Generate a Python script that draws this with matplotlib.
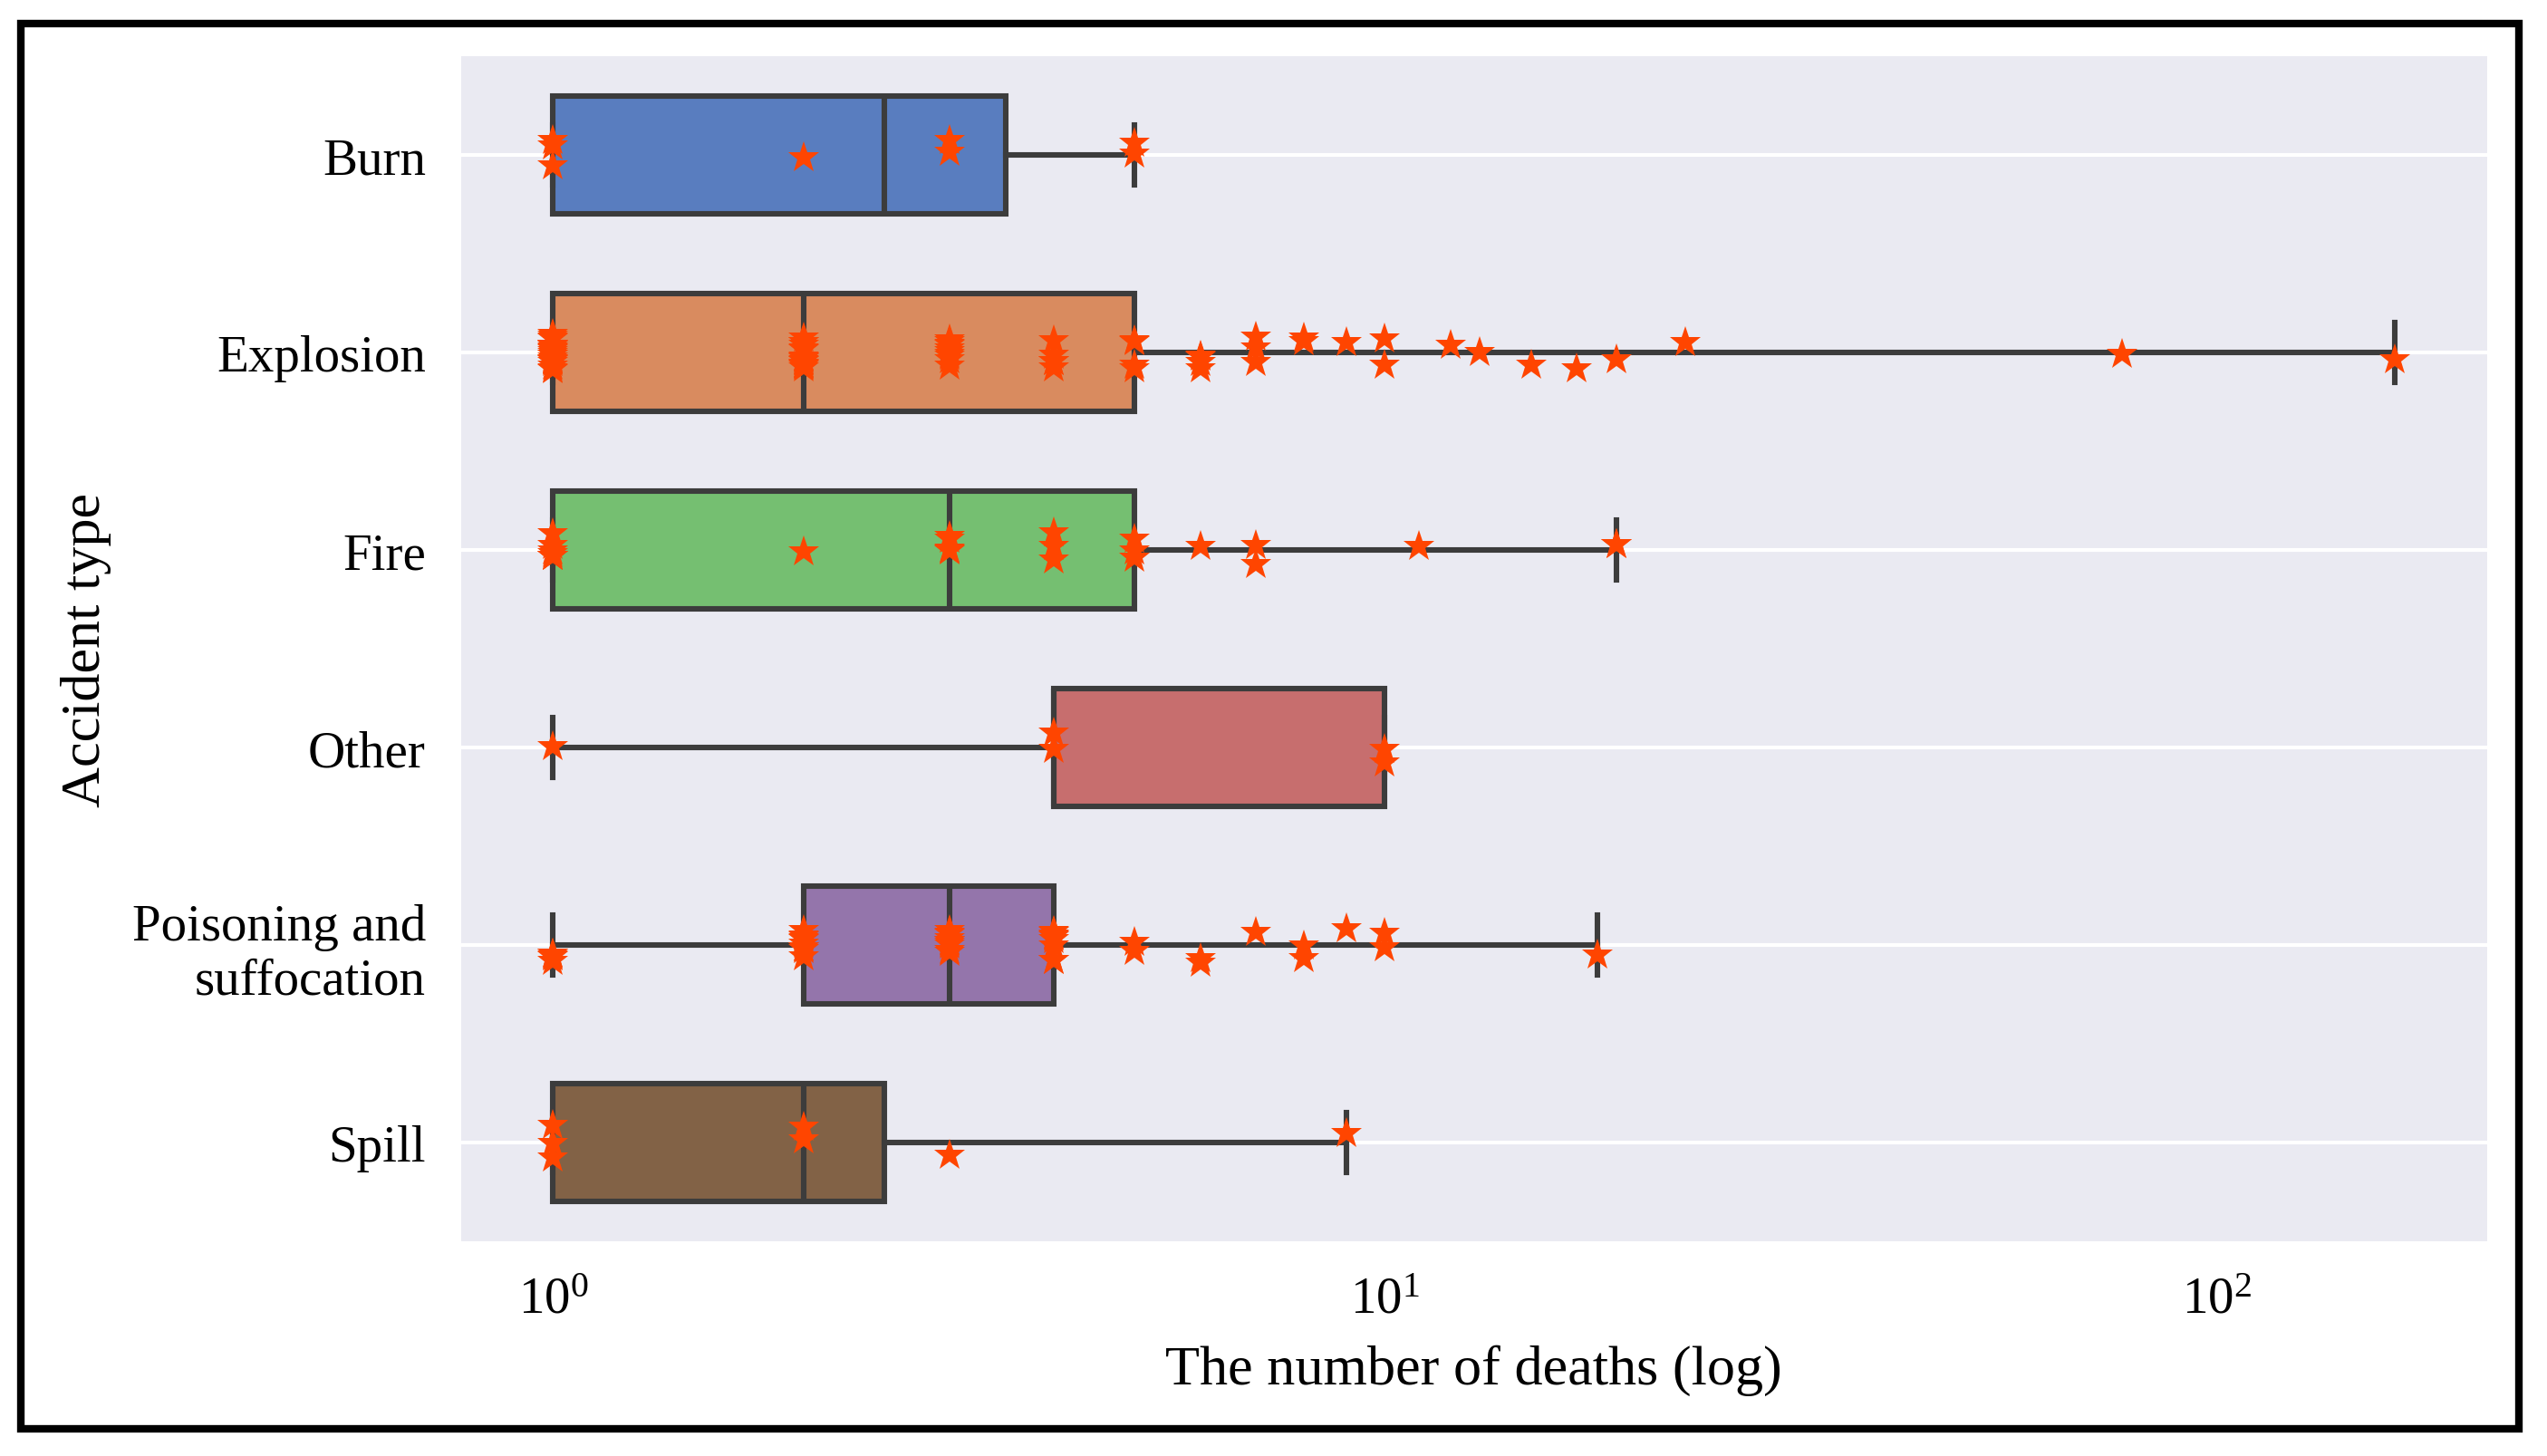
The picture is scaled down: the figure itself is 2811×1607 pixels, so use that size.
import colorsys
import numpy as np
import matplotlib
matplotlib.use("Agg")
import matplotlib.pyplot as plt
from matplotlib.colors import to_rgb
from matplotlib.patches import Rectangle

# accident types (top to bottom)
categories = ["Burn", "Explosion", "Fire", "Other", "Poisoning and\nsuffocation", "Spill"]

# deaths per accident, stored as distinct values + how many times each occurs
burn_values = [1, 2, 3, 5]
burn_counts = [3, 1, 2, 2]

explosion_values = [1, 2, 3, 4, 5, 6, 7, 8, 9, 10, 12, 13, 15, 17, 19, 23, 77, 164]
explosion_counts = [24, 18, 10, 5, 4, 4, 3, 2, 1, 2, 1, 1, 1, 1, 1, 1, 1, 1]

fire_values = [1, 2, 3, 4, 5, 6, 7, 11, 19]
fire_counts = [7, 1, 5, 3, 3, 1, 2, 1, 2]

other_values = [1, 4, 10]
other_counts = [1, 2, 2]

poisoning_values = [1, 2, 3, 4, 5, 6, 7, 8, 9, 10, 18]
poisoning_counts = [5, 10, 10, 9, 2, 2, 1, 2, 1, 2, 1]

spill_values = [1, 2, 3, 9]
spill_counts = [3, 2, 1, 1]

groups = [
    np.repeat(burn_values, burn_counts),
    np.repeat(explosion_values, explosion_counts),
    np.repeat(fire_values, fire_counts),
    np.repeat(other_values, other_counts),
    np.repeat(poisoning_values, poisoning_counts),
    np.repeat(spill_values, spill_counts),
]

# seaborn "muted" palette, desaturated like seaborn boxplot does
muted = ["#4878D0", "#EE854A", "#6ACC64", "#D65F5F", "#956CB4", "#8C613C"]


def desaturate(c, prop=0.75):
    h, l, s = colorsys.rgb_to_hls(*to_rgb(c))
    return colorsys.hls_to_rgb(h, l, s * prop)


box_colors = [desaturate(c) for c in muted]
line_gray = "#3c3c3c"
lw = 2.2

plt.rcParams["font.family"] = ["Liberation Serif", "DejaVu Serif"]
plt.rcParams["mathtext.fontset"] = "stix"

fig = plt.figure(figsize=(14.055, 8.04), dpi=200)
ax = fig.add_axes([0.181, 0.1474, 0.7955, 0.8134])
ax.set_facecolor("#EAEAF2")
for s in ax.spines.values():
    s.set_visible(False)

positions = np.arange(len(categories))
bp = ax.boxplot(groups, positions=positions, orientation="horizontal", widths=0.6,
                whis=(0, 100), showfliers=False, patch_artist=True,
                boxprops=dict(edgecolor=line_gray, linewidth=lw),
                whiskerprops=dict(color=line_gray, linewidth=lw),
                capprops=dict(color=line_gray, linewidth=lw),
                medianprops=dict(color=line_gray, linewidth=lw),
                zorder=2)
for patch, col in zip(bp["boxes"], box_colors):
    patch.set_facecolor(col)

# strip of individual accidents, jittered around each category
rng = np.random.default_rng(3)
for i, g in enumerate(groups):
    jit = rng.uniform(-0.09, 0.09, len(g))
    ax.plot(g, i + jit, linestyle="none", marker="*", markersize=13,
            color="orangered", markeredgewidth=0, zorder=3)

ax.set_xscale("log")
ax.margins(x=0.05)
ax.set_ylim(len(categories) - 0.5, -0.5)
ax.set_yticks(positions)
ax.set_yticklabels(categories)

ax.grid(False)
ax.yaxis.grid(True, color="white", linewidth=1.5, zorder=0)
ax.set_axisbelow(True)
ax.tick_params(axis="both", which="both", length=0, labelsize=20.5, pad=14)

ax.set_xlabel("The number of deaths (log)", fontsize=22.4, labelpad=8)
ax.set_ylabel("Accident type", fontsize=22.4, labelpad=8)

fig.patches.append(Rectangle((23 / 2811, 1 - 1578 / 1608), (2780 - 23) / 2811,
                             (1578 - 27) / 1608, transform=fig.transFigure,
                             fill=False, edgecolor="black", linewidth=3))

fig.savefig("out.png", dpi=200)
